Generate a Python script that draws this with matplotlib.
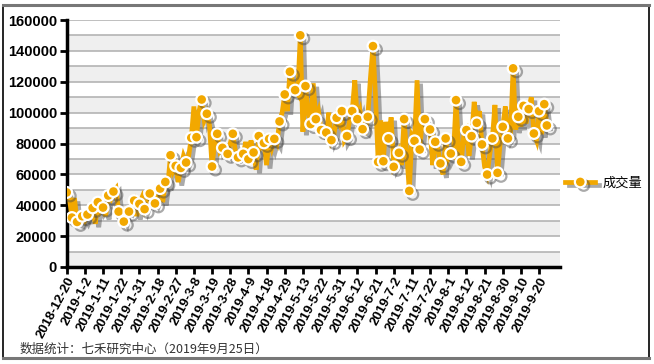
import matplotlib
matplotlib.use('Agg')
import matplotlib.pyplot as plt
import matplotlib.patheffects as pe
from matplotlib.lines import Line2D
import numpy as np

plt.rcParams['font.family'] = ['Liberation Sans', 'Noto Sans CJK SC', 'DejaVu Sans']

# daily volume, 2018-12-20 .. 2019-9-25
volume = [
    48300, 45000, 32000, 44700, 29200, 28500, 32900, 30000, 34000, 36000,
    38300, 28000, 42000, 36000, 38500, 33000, 46300, 44000, 48900, 51000,
    35900, 33000, 29400, 37000, 35900, 40000, 43000, 33000, 40900, 45000,
    37500, 42000, 47600, 44000, 41200, 46000, 50800, 42000, 55100, 54000,
    72400, 62000, 65500, 55000, 64200, 72000, 67700, 72000, 83700, 104000,
    84100, 101000, 108500, 95000, 99300, 92000, 65100, 80000, 86300, 75000,
    77200, 76000, 73300, 80000, 86300, 75000, 71000, 72000, 73300, 81000,
    69900, 82000, 74200, 63000, 84800, 78000, 80400, 66000, 83000, 77000,
    83000, 80000, 94300, 100000, 111800, 101000, 126500, 121000, 114600, 112000,
    150100, 87600, 117200, 100000, 92600, 119000, 95800, 101000, 88700, 86000,
    87100, 100000, 82200, 86000, 96700, 93000, 101000, 82000, 84800, 95000,
    101000, 121000, 95800, 101000, 89300, 88000, 97300, 122000, 143100, 110000,
    68100, 95000, 68500, 94000, 83300, 97000, 64900, 68000, 74000, 66000,
    95800, 74000, 49300, 85000, 81700, 121000, 76100, 95000, 95800, 93000,
    89100, 66000, 81100, 77000, 67100, 60000, 83300, 70000, 73500, 72000,
    108100, 77000, 68100, 86000, 88700, 72000, 84800, 107000, 93400, 101000,
    79400, 65000, 59900, 73000, 83300, 105000, 61000, 80000, 90800, 104000,
    83300, 86000, 128700, 89000, 97300, 91000, 104400, 93000, 102300, 110000,
    86500, 82000, 101000, 86000, 105500, 91700,
]

date_labels = [
    '2018-12-20', '2019-1-2', '2019-1-11', '2019-1-22', '2019-1-31', '2019-2-18',
    '2019-2-27', '2019-3-8', '2019-3-19', '2019-3-28', '2019-4-9', '2019-4-18',
    '2019-4-29', '2019-5-13', '2019-5-22', '2019-5-31', '2019-6-12', '2019-6-21',
    '2019-7-2', '2019-7-11', '2019-7-22', '2019-8-1', '2019-8-12', '2019-8-21',
    '2019-8-30', '2019-9-10', '2019-9-20',
]

series_name = '成交量'
source_note = '数据统计：七禾研究中心（2019年9月25日）'

orange = '#f2a800'
n = len(volume)
x = np.arange(n)

fig = plt.figure(figsize=(6.54, 3.64), dpi=100)
ax = fig.add_axes([0.102, 0.2665, 0.754, 0.6785])

# alternating bands + grid
for lo in range(0, 160000, 20000):
    ax.axhspan(lo, lo + 10000, color='#efefef', zorder=0, lw=0)
for yv in range(10000, 160001, 10000):
    ax.axhline(yv, color='#b4b4b4', lw=1.2, zorder=1)

shadow = [pe.SimpleLineShadow(offset=(2.5, -2.5), shadow_color='#444444', alpha=0.45),
          pe.Normal()]
marks = list(range(0, n, 2)) + [n - 1]
ax.plot(x, volume, color=orange, lw=3.4, solid_joinstyle='miter', zorder=3,
        marker='o', markevery=marks, markersize=7.8, markerfacecolor=orange,
        markeredgecolor='white', markeredgewidth=1.6, path_effects=shadow)

ax.set_xlim(0, 190)
ax.set_ylim(0, 160000)
ax.set_yticks(range(0, 160001, 20000))
ax.set_yticklabels([str(v) for v in range(0, 160001, 20000)],
                   fontsize=10.5, fontweight='bold')
ax.set_xticks(range(0, n, 7))
ax.set_xticklabels(date_labels, rotation=62, ha='right', va='top',
                   rotation_mode='anchor', fontsize=9.5, fontweight='bold')

for s in ['top', 'right']:
    ax.spines[s].set_visible(False)
for s in ['left', 'bottom']:
    ax.spines[s].set_linewidth(2.5)
    ax.spines[s].set_color('black')
ax.tick_params(axis='both', direction='out', length=5, width=2, color='black', pad=2)
ax.tick_params(axis='x', pad=1)

# legend
h = Line2D([0], [0], color=orange, lw=3.4, marker='o', markersize=7.8,
           markerfacecolor=orange, markeredgecolor='white', markeredgewidth=1.6,
           path_effects=shadow)
leg = ax.legend([h], [series_name], loc='center left', bbox_to_anchor=(1.0, 0.34),
                frameon=False, borderaxespad=0.3, borderpad=0.1,
                handlelength=2.3, handletextpad=0.5,
                prop={'family': ['Noto Sans CJK SC'], 'size': 9.5})

fig.text(0.03, 0.041, source_note, fontsize=9, color='#333333', va='center',
         family=['Noto Sans CJK SC', 'DejaVu Sans'])

# outer frame
fig.add_artist(Line2D([0.005, 0.005], [0.017, 0.985], color='black', lw=1.2,
                      transform=fig.transFigure))
fig.add_artist(Line2D([0.993, 0.993], [0.017, 0.985], color='black', lw=1.2,
                      transform=fig.transFigure))
fig.add_artist(Line2D([0.005, 0.993], [0.985, 0.985], color='#777777', lw=2.2,
                      transform=fig.transFigure))
fig.add_artist(Line2D([0.005, 0.993], [0.017, 0.017], color='#777777', lw=2.2,
                      transform=fig.transFigure))

fig.savefig('out.png', dpi=100)
